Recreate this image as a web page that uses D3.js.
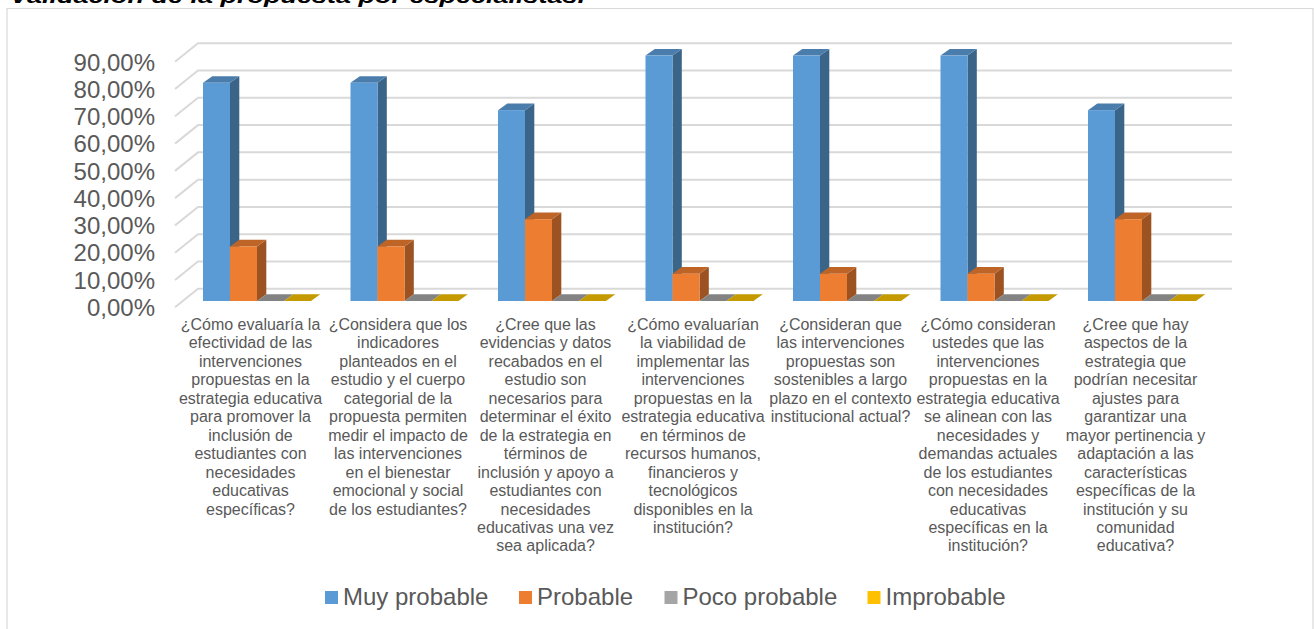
<!DOCTYPE html>
<html>
<head>
<meta charset="utf-8">
<script src="https://cdn.jsdelivr.net/npm/d3@7"></script>
<style>
html, body { margin: 0; padding: 0; background: #fff; overflow: hidden; }
svg { display: block; font-family: "Liberation Sans", Arial, sans-serif; }
.axis path, .axis line { display: none; }
.axis text { font-family: "Liberation Sans", Arial, sans-serif; font-size: 24px; fill: #595959; }
</style>
</head>
<body>
<svg id="chart" width="1315" height="629"></svg>
<script>
var pageTitle = 'Validación de la propuesta por especialistas.';

var categories = [
    ['¿Cómo evaluaría la', 'efectividad de las', 'intervenciones', 'propuestas en la', 'estrategia educativa', 'para promover la', 'inclusión de', 'estudiantes con', 'necesidades', 'educativas', 'específicas?'],
    ['¿Considera que los', 'indicadores', 'planteados en el', 'estudio y el cuerpo', 'categorial de la', 'propuesta permiten', 'medir el impacto de', 'las intervenciones', 'en el bienestar', 'emocional y social', 'de los estudiantes?'],
    ['¿Cree que las', 'evidencias y datos', 'recabados en el', 'estudio son', 'necesarios para', 'determinar el éxito', 'de la estrategia en', 'términos de', 'inclusión y apoyo a', 'estudiantes con', 'necesidades', 'educativas una vez', 'sea aplicada?'],
    ['¿Cómo evaluarían', 'la viabilidad de', 'implementar las', 'intervenciones', 'propuestas en la', 'estrategia educativa', 'en términos de', 'recursos humanos,', 'financieros y', 'tecnológicos', 'disponibles en la', 'institución?'],
    ['¿Consideran que', 'las intervenciones', 'propuestas son', 'sostenibles a largo', 'plazo en el contexto', 'institucional actual?'],
    ['¿Cómo consideran', 'ustedes que las', 'intervenciones', 'propuestas en la', 'estrategia educativa', 'se alinean con las', 'necesidades y', 'demandas actuales', 'de los estudiantes', 'con necesidades', 'educativas', 'específicas en la', 'institución?'],
    ['¿Cree que hay', 'aspectos de la', 'estrategia que', 'podrían necesitar', 'ajustes para', 'garantizar una', 'mayor pertinencia y', 'adaptación a las', 'características', 'específicas de la', 'institución y su', 'comunidad', 'educativa?']
];

var seriesNames = ['Muy probable', 'Probable', 'Poco probable', 'Improbable'];
var muyProbable = [80, 80, 70, 90, 90, 90, 70];
var probable = [20, 20, 30, 10, 10, 10, 30];
var pocoProbable = [0, 0, 0, 0, 0, 0, 0];
var improbable = [0, 0, 0, 0, 0, 0, 0];
var seriesValues = [muyProbable, probable, pocoProbable, improbable];

var yTicks = [0, 10, 20, 30, 40, 50, 60, 70, 80, 90];

var faceColors = ['#5b9bd5', '#ed7d31', '#a5a5a5', '#ffc000'];
var sideColors = ['#3a6488', '#9c5221', '#6c6c6c', '#a67c00'];
var topColors = ['#4a7dab', '#be6427', '#838383', '#c49a00'];

var legendSquares = [325, 519, 664.5, 867.5];

var svg = d3.select('#chart');
var locale = d3.formatLocale({ decimal: ',', thousands: '.', grouping: [3], currency: ['', '€'] });
var tickFormat = function(d) { return locale.format('.2f')(d) + '%'; };

// depth of the 3d box drawn by the bars, and of the floor under the gridlines
var barDx = 9.3, barDy = 6.7;
var wallDx = 23, wallDy = 18.5;

var y = d3.scaleLinear().domain([0, 90]).range([301, 55.6]);
var x = d3.scaleBand().domain(d3.range(categories.length)).range([176.75, 1209.25]);
var xInner = d3.scaleBand().domain(d3.range(seriesNames.length)).range([26.25, 134.25]);

// title cut by the top of the page
svg.append('text')
    .attr('x', 10)
    .attr('y', 3)
    .attr('textLength', 575)
    .attr('lengthAdjust', 'spacingAndGlyphs')
    .style('font-size', '20px')
    .style('font-style', 'italic')
    .style('font-weight', 'bold')
    .style('fill', '#000')
    .text(pageTitle);

// chart frame, open at the bottom of the page
svg.append('path')
    .attr('d', 'M7,629V8.5H1313V629')
    .attr('fill', '#fff')
    .attr('stroke', '#d9d9d9')
    .attr('stroke-width', 1.2);

// gridlines on the back wall and the floor edge
var grid = svg.append('g').attr('fill', 'none').attr('stroke', '#d9d9d9').attr('stroke-width', 2);
grid.selectAll('path')
    .data(yTicks)
    .enter()
    .append('path')
    .attr('d', function(d) {
        var by = y(d) - 12.3;
        return 'M175,' + (by + wallDy) + 'L' + (175 + wallDx) + ',' + by + 'H1232';
    });

// axis
var axis = svg.append('g')
    .attr('class', 'axis')
    .attr('transform', 'translate(155,6)')
    .call(d3.axisLeft(y).tickValues(yTicks).tickFormat(tickFormat).tickSize(0).tickPadding(0));
axis.selectAll('text').attr('dy', '0.35em');

// bars
var groups = svg.selectAll('g.cat')
    .data(categories)
    .enter()
    .append('g')
    .attr('class', 'cat')
    .attr('transform', function(d, i) { return 'translate(' + x(i) + ',0)'; });

// left to right so each box hides the foot of its left neighbour's side
seriesNames.forEach(function(name, s) {
    groups.each(function(d, i) {
        var g = d3.select(this),
            v = seriesValues[s][i],
            left = xInner(s),
            w = xInner.bandwidth(),
            top = y(v),
            base = y(0);

        g.append('path')
            .attr('fill', sideColors[s])
            .attr('d', 'M' + (left + w) + ',' + top + 'l' + barDx + ',' + (-barDy) + 'V' + (base - barDy) + 'L' + (left + w) + ',' + base + 'Z');
        g.append('path')
            .attr('fill', topColors[s])
            .attr('d', 'M' + left + ',' + top + 'l' + barDx + ',' + (-barDy) + 'h' + w + 'l' + (-barDx) + ',' + barDy + 'Z');
        if (v > 0) {
            g.append('rect')
                .attr('x', left)
                .attr('y', top)
                .attr('width', w)
                .attr('height', base - top)
                .attr('fill', faceColors[s]);
        }
    });
});

// category labels
groups.append('text')
    .attr('text-anchor', 'middle')
    .style('font-size', '16px')
    .style('fill', '#595959')
    .selectAll('tspan')
    .data(function(d) { return d; })
    .enter()
    .append('tspan')
    .attr('x', x.bandwidth() / 2)
    .attr('y', function(d, i) { return 330 + i * 18.45; })
    .text(function(d) { return d; });

// legend
var legend = svg.selectAll('g.legend')
    .data(seriesNames)
    .enter()
    .append('g')
    .attr('class', 'legend')
    .attr('transform', function(d, i) { return 'translate(' + legendSquares[i] + ',591)'; });
legend.append('rect')
    .attr('width', 13)
    .attr('height', 13)
    .attr('fill', function(d, i) { return faceColors[i]; });
legend.append('text')
    .attr('x', 18)
    .attr('y', 14)
    .style('font-size', '24px')
    .style('fill', '#595959')
    .text(function(d) { return d; });
</script>
</body>
</html>
